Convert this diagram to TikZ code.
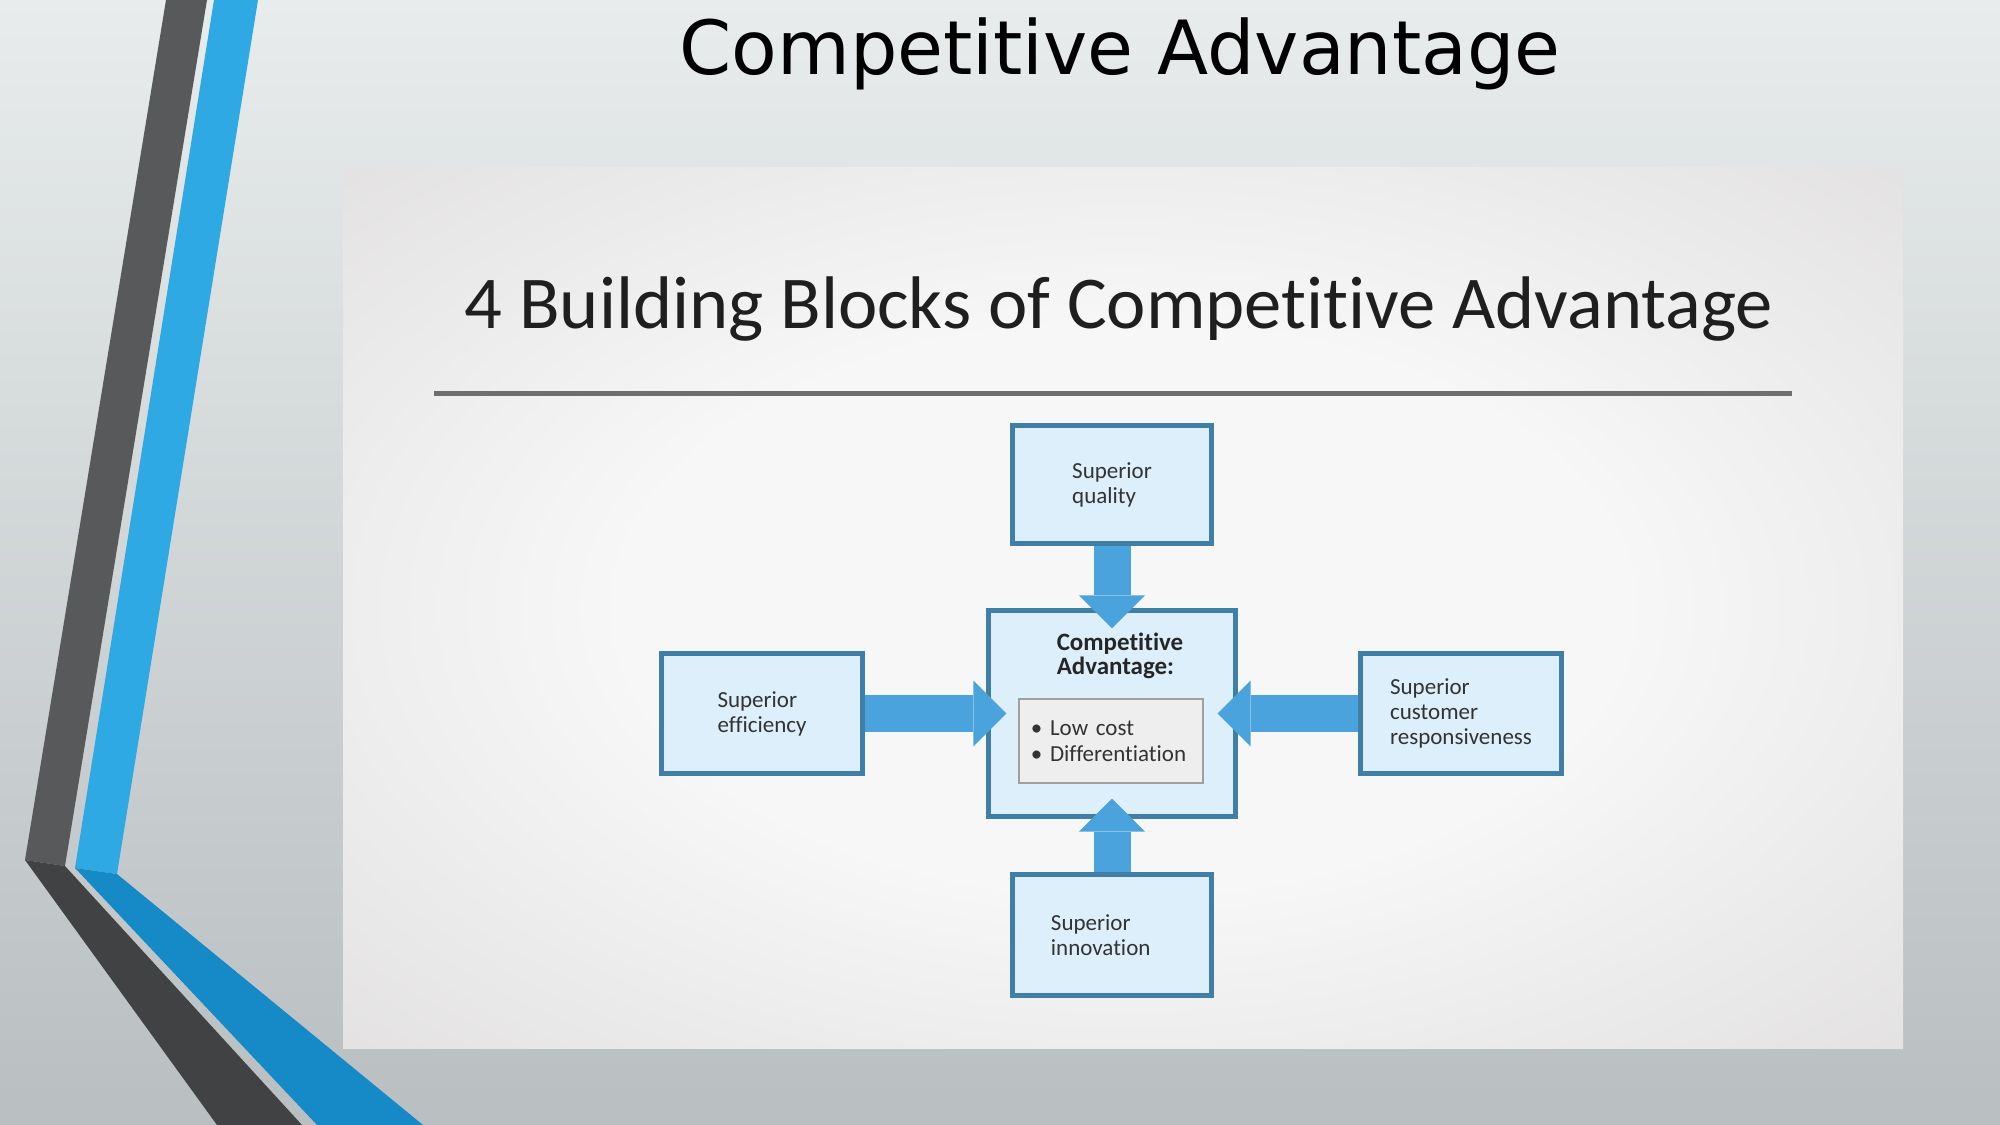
\documentclass[tikz,border=0pt]{standalone}
\usepackage{fontspec}
\setmainfont{Carlito}[Ligatures=NoCommon]
\newfontfamily\slidefont{DejaVu Sans}
\usetikzlibrary{arrows.meta}

\definecolor{slidetop}{HTML}{E8ECEC}
\definecolor{slidebottom}{HTML}{B9BEC1}
\definecolor{panelmid}{HTML}{F7F7F7}
\definecolor{paneledge}{HTML}{D5D2D2}
\definecolor{stripedark}{HTML}{58595B}
\definecolor{stripedarklow}{HTML}{414243}
\definecolor{stripeblue}{HTML}{2FA9E4}
\definecolor{stripebluelow}{HTML}{1689C7}
\definecolor{boxline}{HTML}{3E7EA7}
\definecolor{boxfill}{HTML}{DDEFFA}
\definecolor{boxtext}{HTML}{333333}
\definecolor{feedblue}{HTML}{4AA3DC}
\definecolor{listfill}{HTML}{EEEEEE}
\definecolor{listline}{HTML}{A0A0A0}
\definecolor{rulegrey}{HTML}{6E6E6E}

\pgfdeclareradialshading{panelglow}{\pgfpoint{0bp}{0bp}}{color(0bp)=(panelmid); color(16bp)=(panelmid); color(50bp)=(paneledge); color(72bp)=(paneledge)}

\begin{document}
\begin{tikzpicture}[x=0.01cm, y=-0.01cm,
    block/.style={draw=boxline, line width=0.05cm, fill=boxfill, text=boxtext, align=left,
        font=\fontsize{6.54}{7.1}\selectfont, inner sep=0pt},
    feed/.style={draw=feedblue, line width=0.37cm, shorten >=-0.2cm,
        -{Triangle[width=0.66cm,length=0.33cm,line width=0pt]}}]

    \useasboundingbox (0,0) rectangle (2000,1125);

    % slide
    \shade[top color=slidetop, bottom color=slidebottom] (0,0) rectangle (2000,1125);

    \fill[stripedark] (166,0) -- (207,0) -- (65,866) -- (25,860) -- cycle;
    \fill[stripedarklow] (25,860) -- (65,866) -- (302,1125) -- (217,1125) -- cycle;
    \fill[stripeblue] (214,0) -- (258,0) -- (117,874) -- (75,868) -- cycle;
    \fill[stripebluelow] (75,868) -- (117,874) -- (423,1125) -- (317,1125) -- cycle;

    \node[anchor=base, font=\slidefont\fontsize{21.25}{25}\selectfont] (title) at (1120,75) {Competitive Advantage};

    % picture
    \shade[shading=panelglow] (343,168) rectangle (1903,1048);

    \node[anchor=base, text=black!88, font=\fontsize{21.2}{25}\selectfont] (subtitle) at (1119,329)
        {4 Building Blocks of Competitive Advantage};
    \draw[rulegrey, line width=0.05cm] (434,394) -- (1792,394);

    \node[block, minimum width=2.46cm, minimum height=2.05cm] (advantage) at (1112,713.5) {};
    \node[block, minimum width=1.99cm, minimum height=1.17cm] (quality) at (1112,484.5) {Superior\\quality};
    \node[block, minimum width=2cm, minimum height=1.19cm] (efficiency) at (762,713.5) {Superior\\efficiency};
    \node[block, minimum width=2cm, minimum height=1.19cm] (responsiveness) at (1461,713.5) {Superior\\customer\\responsiveness};
    \node[block, minimum width=1.99cm, minimum height=1.2cm, text width=1.22cm] (innovation) at (1112,935) {Superior\\innovation};

    \node[align=left, text=black!85, font=\bfseries\fontsize{7.1}{6.9}\selectfont] (cahead) at (1120,656)
        {Competitive\\Advantage:};
    \node[draw=listline, line width=0.02cm, fill=listfill, text=boxtext, align=left,
        text width=1.6cm, inner xsep=0.12cm, minimum height=0.84cm,
        font=\fontsize{6.54}{7.4}\selectfont] (lowcost) at (1111,741)
        {\textbullet\ Low cost\\\textbullet\ Differentiation};

    \foreach \s in {quality,efficiency,responsiveness,innovation}{
        \draw[feed] (\s) -- (advantage);
    }
\end{tikzpicture}
\end{document}
